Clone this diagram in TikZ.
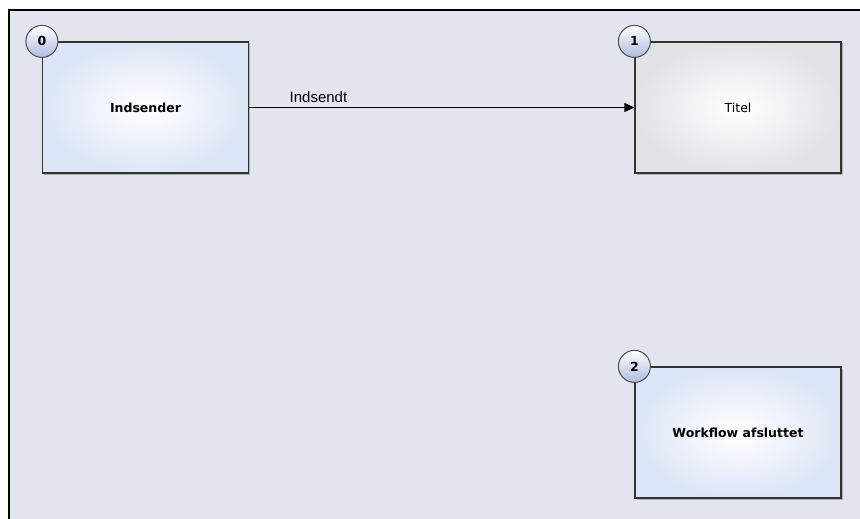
\documentclass[tikz,border=0pt]{standalone}
\usepackage{fontspec}
\setmainfont{DejaVu Sans}
\newfontfamily\arialfont{Liberation Sans}
\usetikzlibrary{arrows.meta,shadows}
\definecolor{bgcol}{HTML}{E2E5EE}
\definecolor{boxblue}{HTML}{DDE6F6}
\definecolor{boxgray}{HTML}{E2E3E6}
\definecolor{circblue}{HTML}{AEBBE2}
\tikzset{
  statebox/.style={draw=black!80, line width=1.2pt, minimum width=206pt, minimum height=131pt,
    inner color=white, outer color=boxblue, font=\fontsize{12.5}{14}\selectfont,
    drop shadow={shadow xshift=1.5pt, shadow yshift=-1.5pt, fill=black!45, opacity=0.6}},
  graybox/.style={statebox, outer color=boxgray},
  boldbox/.style={statebox, font=\bfseries\fontsize{12.5}{14}\selectfont},
  badge/.style={circle, draw=black!70, line width=1pt, minimum size=32pt, inner sep=0pt,
    top color=white, bottom color=circblue, font=\bfseries\fontsize{12.5}{14}\selectfont},
  flow/.style={line width=0.9pt, -{Triangle[length=10pt,width=9pt]}},
  flowlabel/.style={font=\arialfont\fontsize{15}{16}\selectfont}
}
\begin{document}
\begin{tikzpicture}[x=1pt,y=-1pt]
\useasboundingbox (0,0) rectangle (860,519);
\fill[white] (0,0) rectangle (860,519);
\fill[bgcol] (9,10) rectangle (860,519);
\draw[black, line width=2pt] (9,519) -- (9,10) -- (860,10);

\node[boldbox] (b0) at (145.5,107.5) {Indsender};
\node[graybox] (b1) at (738,107.5) {Titel};
\node[boldbox] (b2) at (738,432.5) {Workflow afsluttet};

\node[badge] (c0) at (b0.north west) {0};
\node[badge] (c1) at (b1.north west) {1};
\node[badge] (c2) at (b2.north west) {2};

\draw[flow] (b0.east) -- node[flowlabel, pos=0.18, above=1pt] (lab) {Indsendt} (b1.west);
\end{tikzpicture}
\end{document}
